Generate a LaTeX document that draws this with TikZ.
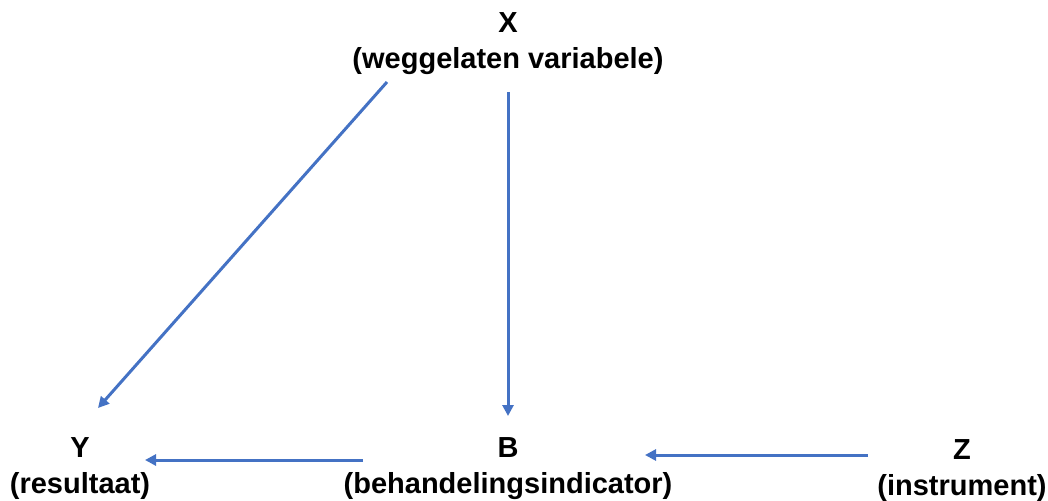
\documentclass[tikz,border=0pt]{standalone}
\usepackage{fontspec}
\setmainfont{Liberation Sans}
\usetikzlibrary{arrows.meta}
\definecolor{arrowblue}{HTML}{4472C4}
\begin{document}
\begin{tikzpicture}[x=1pt,y=-1pt,
  var/.style={font=\bfseries\fontsize{29}{36}\selectfont, align=center, inner sep=0pt},
  link/.style={draw=arrowblue, line width=3pt, -{Triangle[length=11pt,width=11pt]}}]
\useasboundingbox (0,0) rectangle (1048,500);
\node[var] (X) at (508,44) {X\\(weggelaten variabele)};
\node[var] (Y) at (80,469) {Y\\(resultaat)};
\node[var] (B) at (508,469) {B\\(behandelingsindicator)};
\node[var] (Z) at (962,471) {Z\\(instrument)};
\coordinate (xy1) at (387,82);
\coordinate (xy2) at (98,408);
\coordinate (xb1) at (508,92);
\coordinate (xb2) at (508,416);
\coordinate (by1) at (363,460);
\coordinate (by2) at (145,460);
\coordinate (zb1) at (868,455);
\coordinate (zb2) at (645,455);
\draw[link] (xy1) -- (xy2);
\draw[link] (xb1) -- (xb2);
\draw[link] (by1) -- (by2);
\draw[link] (zb1) -- (zb2);
\end{tikzpicture}
\end{document}
